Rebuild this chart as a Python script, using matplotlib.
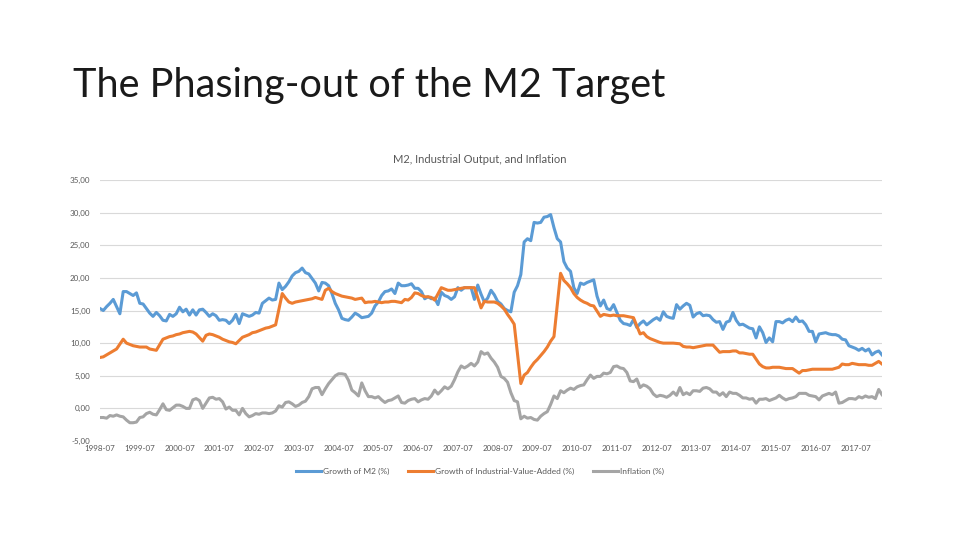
import numpy as np
import pandas as pd
import matplotlib
matplotlib.use('Agg')
import matplotlib.pyplot as plt

nan = np.nan

# monthly values, 1998-07 .. 2018-03
start_month = '1998-07'

m2_growth = [
    15.3, 15.0, 15.6, 16.1, 16.7, 15.6,
    14.5, 17.9, 17.9, 17.6, 17.3, 17.7, 16.1, 16.0, 15.3, 14.6, 14.1, 14.7,
    14.2, 13.5, 13.4, 14.4, 14.1, 14.5, 15.5, 14.8, 15.2, 14.3, 15.1, 14.3,
    15.1, 15.2, 14.7, 14.1, 14.5, 14.2, 13.5, 13.6, 13.5, 13.0, 13.5, 14.4,
    13.0, 14.5, 14.3, 14.1, 14.3, 14.7, 14.6, 16.1, 16.5, 16.9, 16.6, 16.7,
    19.2, 18.2, 18.7, 19.4, 20.3, 20.8, 21.0, 21.5, 20.8, 20.6, 19.9, 19.2,
    18.0, 19.3, 19.2, 18.8, 17.6, 16.1, 15.1, 13.8, 13.6, 13.5, 14.0, 14.6,
    14.3, 13.9, 14.0, 14.1, 14.6, 15.7, 16.3, 17.3, 17.9, 18.0, 18.3, 17.6,
    19.2, 18.8, 18.8, 18.9, 19.1, 18.4, 18.4, 17.9, 16.8, 17.1, 16.8, 16.9,
    15.9, 17.8, 17.3, 17.1, 16.7, 17.1, 18.5, 18.1, 18.5, 18.5, 18.5, 16.7,
    18.9, 17.5, 16.3, 16.9, 18.1, 17.4, 16.4, 16.0, 15.3, 15.0, 14.8, 17.8,
    18.8, 20.5, 25.5, 26.0, 25.7, 28.5, 28.4, 28.5, 29.3, 29.4, 29.7, 27.7,
    26.0, 25.5, 22.5, 21.5, 21.0, 18.5, 17.6, 19.2, 19.0, 19.3, 19.5, 19.7,
    17.2, 15.7, 16.6, 15.3, 15.1, 15.9, 14.7, 13.5, 13.0, 12.9, 12.7, 13.6,
    12.4, 13.0, 13.4, 12.8, 13.2, 13.6, 13.9, 13.5, 14.8, 14.1, 13.9, 13.8,
    15.9, 15.2, 15.7, 16.1, 15.8, 14.0, 14.5, 14.7, 14.2, 14.3, 14.2, 13.6,
    13.2, 13.3, 12.1, 13.2, 13.4, 14.7, 13.5, 12.8, 12.9, 12.6, 12.3, 12.2,
    10.8, 12.5, 11.6, 10.1, 10.8, 10.2, 13.3, 13.3, 13.1, 13.5, 13.7, 13.3,
    14.0, 13.3, 13.4, 12.8, 11.8, 11.8, 10.2, 11.4, 11.5, 11.6, 11.4, 11.3,
    11.3, 11.1, 10.6, 10.5, 9.6, 9.4, 9.2, 8.9, 9.2, 8.8, 9.1, 8.2,
    8.6, 8.8, 8.2,
]

# cumulative growth, January is not reported
iva_growth = [
    7.8, 7.9, 8.2, 8.5, 8.8, 9.1,
    nan, 10.6, 10.0, 9.8, 9.6, 9.5, 9.4, 9.4, 9.4, 9.1, 9.0, 8.9,
    nan, 10.6, 10.8, 11.0, 11.1, 11.3, 11.4, 11.6, 11.7, 11.8, 11.7, 11.4,
    nan, 10.3, 11.2, 11.4, 11.3, 11.1, 10.9, 10.6, 10.4, 10.2, 10.1, 9.9,
    nan, 10.9, 11.1, 11.3, 11.6, 11.7, 11.9, 12.1, 12.3, 12.4, 12.6, 12.8,
    nan, 17.6, 16.9, 16.3, 16.1, 16.3, 16.4, 16.5, 16.6, 16.7, 16.8, 17.0,
    nan, 16.7, 18.1, 18.4, 17.9, 17.6, 17.4, 17.2, 17.1, 17.0, 16.9, 16.7,
    nan, 16.9, 16.2, 16.3, 16.3, 16.4, 16.3, 16.2, 16.3, 16.3, 16.4, 16.4,
    nan, 16.2, 16.7, 16.6, 17.0, 17.7, 17.6, 17.3, 17.1, 17.1, 17.0, 16.6,
    nan, 18.5, 18.3, 18.1, 18.1, 18.2, 18.3, 18.4, 18.5, 18.5, 18.5, 18.5,
    nan, 15.4, 16.4, 16.3, 16.3, 16.3, 16.1, 15.7, 15.2, 14.4, 13.7, 12.9,
    nan, 3.8, 5.1, 5.5, 6.3, 7.0, 7.5, 8.1, 8.7, 9.4, 10.3, 11.0,
    nan, 20.7, 19.6, 19.1, 18.5, 17.6, 17.0, 16.6, 16.3, 16.1, 15.8, 15.7,
    nan, 14.1, 14.4, 14.3, 14.2, 14.3, 14.2, 14.2, 14.2, 14.1, 14.0, 13.9,
    nan, 11.4, 11.6, 11.0, 10.7, 10.5, 10.3, 10.1, 10.0, 10.0, 10.0, 10.0,
    nan, 9.9, 9.5, 9.4, 9.4, 9.3, 9.4, 9.5, 9.6, 9.7, 9.7, 9.7,
    nan, 8.6, 8.7, 8.7, 8.7, 8.8, 8.8, 8.5, 8.5, 8.4, 8.3, 8.3,
    nan, 6.8, 6.4, 6.2, 6.2, 6.3, 6.3, 6.3, 6.2, 6.1, 6.1, 6.1,
    nan, 5.4, 5.8, 5.8, 5.9, 6.0, 6.0, 6.0, 6.0, 6.0, 6.0, 6.0,
    nan, 6.3, 6.8, 6.7, 6.7, 6.9, 6.8, 6.7, 6.7, 6.7, 6.6, 6.6,
    nan, 7.2, 6.8,
]

inflation = [
    -1.4, -1.4, -1.5, -1.1, -1.2, -1.0,
    -1.2, -1.3, -1.8, -2.2, -2.2, -2.1, -1.4, -1.3, -0.8, -0.6, -0.9, -1.0,
    -0.2, 0.7, -0.2, -0.3, 0.1, 0.5, 0.5, 0.3, 0.0, 0.0, 1.3, 1.5,
    1.2, 0.0, 0.8, 1.6, 1.7, 1.4, 1.5, 1.0, -0.1, 0.2, -0.3, -0.3,
    -1.0, 0.0, -0.8, -1.3, -1.1, -0.8, -0.9, -0.7, -0.7, -0.8, -0.7, -0.4,
    0.4, 0.2, 0.9, 1.0, 0.7, 0.3, 0.5, 0.9, 1.1, 1.8, 3.0, 3.2,
    3.2, 2.1, 3.0, 3.8, 4.4, 5.0, 5.3, 5.3, 5.2, 4.3, 2.8, 2.4,
    1.9, 3.9, 2.7, 1.8, 1.8, 1.6, 1.8, 1.3, 0.9, 1.2, 1.3, 1.6,
    1.9, 0.9, 0.8, 1.2, 1.4, 1.5, 1.0, 1.3, 1.5, 1.4, 1.9, 2.8,
    2.2, 2.7, 3.3, 3.0, 3.4, 4.4, 5.6, 6.5, 6.2, 6.5, 6.9, 6.5,
    7.1, 8.7, 8.3, 8.5, 7.7, 7.1, 6.3, 4.9, 4.6, 4.0, 2.4, 1.2,
    1.0, -1.6, -1.2, -1.5, -1.4, -1.7, -1.8, -1.2, -0.8, -0.5, 0.6, 1.9,
    1.5, 2.7, 2.4, 2.8, 3.1, 2.9, 3.3, 3.5, 3.6, 4.4, 5.1, 4.6,
    4.9, 4.9, 5.4, 5.3, 5.5, 6.4, 6.5, 6.2, 6.1, 5.5, 4.2, 4.1,
    4.5, 3.2, 3.6, 3.4, 3.0, 2.2, 1.8, 2.0, 1.9, 1.7, 2.0, 2.5,
    2.0, 3.2, 2.1, 2.4, 2.1, 2.7, 2.7, 2.6, 3.1, 3.2, 3.0, 2.5,
    2.5, 2.0, 2.4, 1.8, 2.5, 2.3, 2.3, 2.0, 1.6, 1.6, 1.4, 1.5,
    0.8, 1.4, 1.4, 1.5, 1.2, 1.4, 1.6, 2.0, 1.6, 1.3, 1.5, 1.6,
    1.8, 2.3, 2.3, 2.3, 2.0, 1.9, 1.8, 1.3, 1.9, 2.1, 2.3, 2.1,
    2.5, 0.8, 0.9, 1.2, 1.5, 1.5, 1.4, 1.8, 1.6, 1.9, 1.7, 1.8,
    1.5, 2.9, 2.1,
]

series_names = ['Growth of M2 (%)', 'Growth of Industrial-Value-Added (%)', 'Inflation (%)']
colors = ['#5B9BD5', '#ED7D31', '#A5A5A5']

months = pd.date_range(start_month, periods=len(m2_growth), freq='MS')
data = pd.DataFrame({series_names[0]: m2_growth,
                     series_names[1]: iva_growth,
                     series_names[2]: inflation}, index=months)

plt.rcParams['font.family'] = ['Lato', 'DejaVu Sans']

fig = plt.figure(figsize=(9.6, 5.4), dpi=100)
ax = fig.add_axes([100 / 960, 1 - 441 / 540, 782 / 960, 261 / 540])

x = np.arange(len(data))
for name, col in zip(series_names, colors):
    vals = data[name].values
    ok = ~np.isnan(vals)
    ax.plot(x[ok], vals[ok], color=col, lw=2.2, label=name, solid_joinstyle='round')

ax.set_xlim(0, len(data) - 1)
ax.set_ylim(-5, 35)
ax.set_yticks(np.arange(-5, 36, 5))
ax.set_yticklabels([('%.2f' % v).replace('.', ',') for v in np.arange(-5, 36, 5)])

tick_pos = [i for i, d in enumerate(data.index) if d.month == 7]
ax.set_xticks(tick_pos)
ax.set_xticklabels([data.index[i].strftime('%Y-%m') for i in tick_pos])

ax.grid(True, axis='y', color='#D9D9D9', lw=0.8)
ax.set_axisbelow(True)
for s in ax.spines.values():
    s.set_visible(False)
ax.tick_params(axis='both', length=0, colors='#595959', labelsize=5.8)
ax.tick_params(axis='y', pad=7)
ax.tick_params(axis='x', pad=3)

fig.text(73 / 960, 1 - 97 / 540, 'The Phasing-out of the M2 Target',
         fontsize=28.5, fontweight='normal', color='#1a1a1a', va='baseline', ha='left')
fig.text(0.5, 1 - 159 / 540, 'M2, Industrial Output, and Inflation',
         fontsize=8, color='#595959', ha='center', va='center')

fig.legend(loc='center', bbox_to_anchor=(0.5, 1 - 471 / 540), ncol=3, frameon=False,
           fontsize=6, handlelength=3, columnspacing=2.2, handletextpad=0.3,
           labelcolor='#595959')

plt.savefig('out.png', dpi=100)
plt.close()
